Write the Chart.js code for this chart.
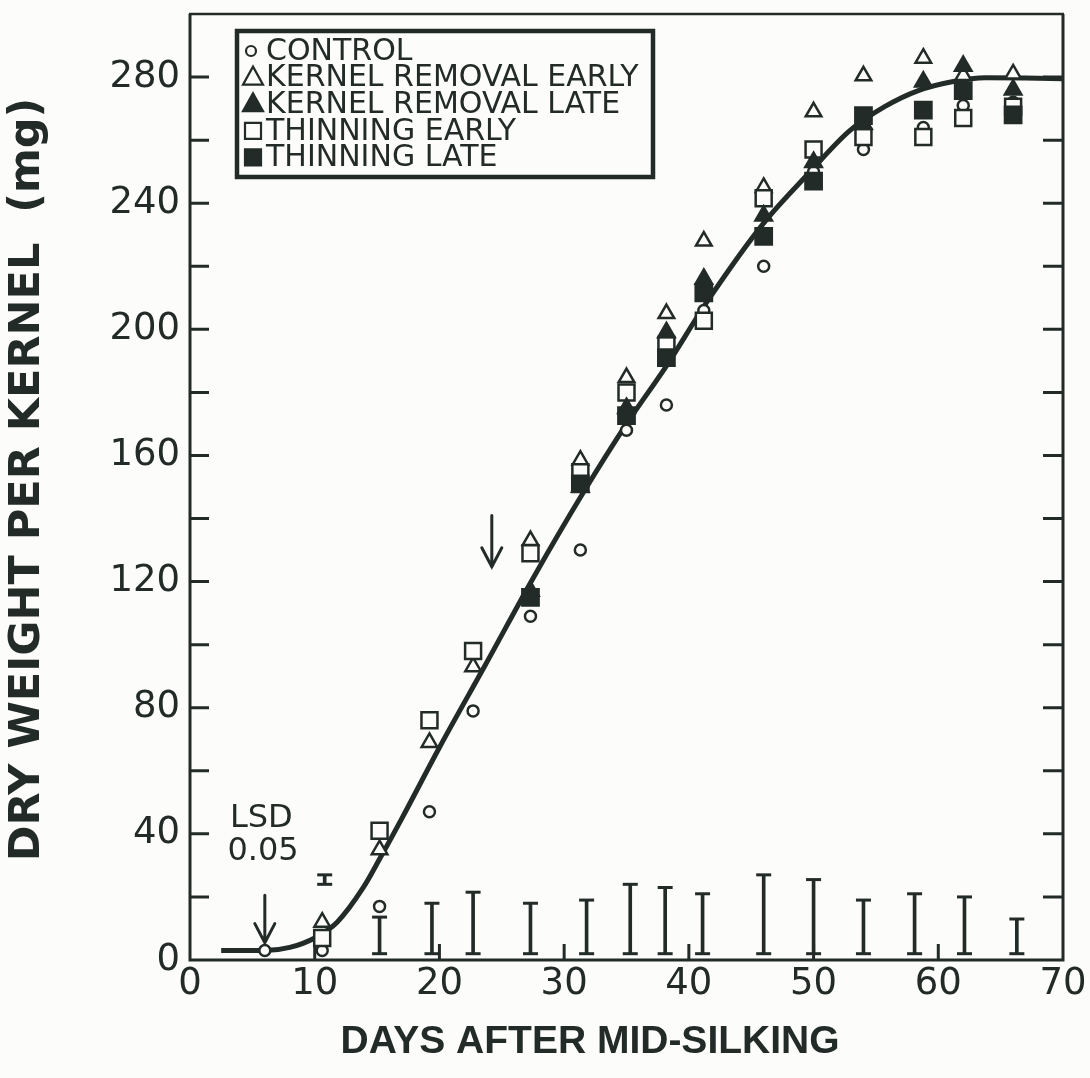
<!DOCTYPE html>
<html>
<head>
<meta charset="utf-8">
<script src="https://cdn.jsdelivr.net/npm/chart.js@4.4.1/dist/chart.umd.min.js"></script>
<style>
  html, body { margin: 0; padding: 0; background: #fcfcfa; }
</style>
</head>
<body>
<canvas id="chart" width="1090" height="1078"></canvas>
<script>
// sampling days and kernel dry weight (mg) per treatment
const days = [6, 10.6, 15.2, 19.2, 22.7, 27.3, 31.3, 35, 38.2, 41.2, 46, 50, 54, 58.8, 62, 66];
const control = [3, 3, 17, 47, 79, 109, 130, 168, 176, 206, 220, 250, 257, 264, 271, 272];
const kernelEarly = [null, 12, 35, 69, 93, 133, 158.5, 184.7, 205, 228, 245, 269, 280.4, 286, 280.5, 281];
const kernelLate = [null, null, null, null, null, 117, 150, 175, 199, 216, 236, 253, 265, 278.5, 283.5, 276];
const thinEarly = [null, 7, 41, 76, 98, 129, 154.7, 180, 195, 202.7, 241.6, 257, 261, 261, 267, 270.6];
const thinLate = [null, null, null, null, null, 115, 151, 172.6, 191, 211.6, 229.5, 247, 267.8, 269.5, 275.7, 268];

// fitted growth curve
const curveDays = [2.5, 6, 8, 10, 11.8, 13.9, 15.2, 17, 20, 23.7, 27.5, 31.5, 35, 38.3, 41.5, 46, 49.5, 52.9, 55.7, 58.4, 61.1, 63.8, 67, 70];
const curveVals = [3, 3, 4, 7, 12, 23, 32, 45, 67.4, 93.7, 121, 148, 170, 189, 209, 233.7, 249, 263, 270.6, 275.7, 278.5, 279.8, 279.7, 279.5];

// LSD 0.05 bars
const lsdDays = [10.8, 15.2, 19.4, 22.7, 27.3, 31.8, 35.3, 38.1, 41.1, 46, 50, 54, 58.1, 62.1, 66.3];
const lsdLow = [24, 2, 2, 2, 2, 2, 2, 2, 2, 2, 2, 2, 2, 2, 2];
const lsdHigh = [27, 13.6, 18, 21.5, 18, 19, 24, 23, 21, 27, 25.5, 19, 21, 20, 13];

// treatment arrows
const arrowDays = [6, 24.2];
const arrowFrom = [20.5, 141];
const arrowTo = [5.5, 124.7];

const yTickLabels = [0, 40, 80, 120, 160, 200, 240, 280];

const INK = '#232b29';
const PAPER = '#fcfcfa';

const pts = (xs, ys) => xs.map((x, i) => ({ x: x, y: ys[i] })).filter(p => p.y !== null);

// box, inward ticks on all sides
const frame = {
  id: 'frame',
  beforeDatasetsDraw(chart) {
    const { ctx, chartArea: a, scales: { x, y } } = chart;
    ctx.save();
    ctx.strokeStyle = INK;
    ctx.lineWidth = 3;
    y.ticks.forEach(t => {
      if (t.value <= y.min || t.value >= y.max) return;
      const py = y.getPixelForValue(t.value);
      ctx.beginPath();
      ctx.moveTo(a.left, py); ctx.lineTo(a.left + 19, py);
      ctx.moveTo(a.right, py); ctx.lineTo(a.right - 20, py);
      ctx.stroke();
    });
    x.ticks.forEach(t => {
      if (t.value <= x.min || t.value >= x.max) return;
      const px = x.getPixelForValue(t.value);
      ctx.beginPath();
      ctx.moveTo(px, a.bottom); ctx.lineTo(px, a.bottom - 16);
      ctx.stroke();
    });
    ctx.beginPath();
    ctx.moveTo(a.left, a.top); ctx.lineTo(a.left, a.bottom);
    ctx.lineTo(a.right, a.bottom); ctx.lineTo(a.right, a.top);
    ctx.stroke();
    ctx.lineWidth = 2.5;
    ctx.beginPath();
    ctx.moveTo(a.left - 1, a.top); ctx.lineTo(a.right + 1, a.top);
    ctx.stroke();
    ctx.restore();
  }
};

// arrows, the LSD note and the x axis title (set a bit left of centre)
const notes = {
  id: 'notes',
  afterDatasetsDraw(chart) {
    const { ctx, scales: { x, y } } = chart;
    ctx.save();
    ctx.strokeStyle = INK;
    ctx.lineWidth = 3;
    ctx.lineCap = 'round';
    arrowDays.forEach((d, i) => {
      const px = x.getPixelForValue(d);
      const y0 = y.getPixelForValue(arrowFrom[i]);
      const y1 = y.getPixelForValue(arrowTo[i]);
      ctx.beginPath();
      ctx.moveTo(px, y0); ctx.lineTo(px, y1);
      ctx.moveTo(px - 10, y1 - 19); ctx.lineTo(px, y1); ctx.lineTo(px + 10, y1 - 19);
      ctx.stroke();
    });
    ctx.fillStyle = INK;
    ctx.font = '32px "DejaVu Sans"';
    ctx.textAlign = 'left';
    ctx.textBaseline = 'middle';
    ctx.fillText('LSD', x.getPixelForValue(3.2), y.getPixelForValue(44.8));
    ctx.fillText('0.05', x.getPixelForValue(3.0), y.getPixelForValue(34.4));
    ctx.font = 'bold 39px "Liberation Sans"';
    ctx.textAlign = 'center';
    ctx.fillText('DAYS AFTER MID-SILKING', 590, x.bottom - 36);
    ctx.restore();
  }
};

// legend box in the upper left of the plot
const boxLegend = {
  id: 'boxLegend',
  afterDraw(chart) {
    const { ctx, chartArea: a } = chart;
    const left = a.left + 47, top = a.top + 17, w = 416, h = 146;
    ctx.save();
    ctx.fillStyle = PAPER;
    ctx.fillRect(left, top, w, h);
    ctx.strokeStyle = INK;
    ctx.lineWidth = 4.5;
    ctx.strokeRect(left, top, w, h);
    ctx.font = '30px "DejaVu Sans"';
    ctx.textBaseline = 'middle';
    ctx.textAlign = 'left';
    chart.data.datasets.filter(ds => ds.inLegend).forEach((ds, i) => {
      const cy = top + 20 + i * 26.6;
      const cx = left + 16;
      const filled = ds.backgroundColor === INK;
      ctx.lineWidth = 2.2;
      ctx.strokeStyle = INK;
      ctx.fillStyle = filled ? INK : PAPER;
      ctx.beginPath();
      if (ds.pointStyle === 'circle') {
        ctx.arc(cx - 2, cy, 5, 0, Math.PI * 2);
      } else if (ds.pointStyle === 'triangle') {
        ctx.moveTo(cx, cy - 11); ctx.lineTo(cx + 10, cy + 7); ctx.lineTo(cx - 10, cy + 7); ctx.closePath();
      } else {
        ctx.rect(cx - 8, cy - 8, 16, 16);
      }
      ctx.fill();
      ctx.stroke();
      ctx.fillStyle = INK;
      ctx.fillText(ds.label, left + 29, cy + 1);
    });
    ctx.restore();
  }
};

const marker = (label, data, style, radius, fill, order) => ({
  label: label,
  data: data,
  pointStyle: style,
  pointRadius: radius,
  borderWidth: 2.5,
  borderColor: INK,
  backgroundColor: fill,
  order: order,
  inLegend: true
});

new Chart(document.getElementById('chart'), {
  type: 'scatter',
  data: {
    datasets: [
      marker('CONTROL', pts(days, control), 'circle', 5.5, PAPER, 5),
      marker('KERNEL REMOVAL EARLY', pts(days, kernelEarly), 'triangle', 9, PAPER, 4),
      marker('KERNEL REMOVAL LATE', pts(days, kernelLate), 'triangle', 9.5, INK, 2),
      marker('THINNING EARLY', pts(days, thinEarly), 'rect', 11.3, PAPER, 3),
      marker('THINNING LATE', pts(days, thinLate), 'rect', 11.5, INK, 1),
      {
        data: pts(curveDays, curveVals),
        showLine: true,
        borderColor: INK,
        borderWidth: 5,
        pointRadius: 0,
        cubicInterpolationMode: 'monotone',
        order: 10
      },
      {
        type: 'bar',
        data: lsdDays.map((d, i) => ({ x: d, y: [lsdLow[i], lsdHigh[i]] })),
        backgroundColor: INK,
        borderWidth: 0,
        barThickness: 3,
        order: 9
      },
      {
        data: pts(lsdDays, lsdLow).concat(pts(lsdDays, lsdHigh)),
        pointStyle: 'line',
        pointRadius: 7.5,
        borderWidth: 3,
        borderColor: INK,
        order: 8
      }
    ]
  },
  options: {
    responsive: false,
    devicePixelRatio: 1,
    animation: false,
    events: [],
    layout: { padding: { left: 0, right: 27, top: 10, bottom: 0 } },
    plugins: { legend: { display: false }, tooltip: { enabled: false } },
    scales: {
      x: {
        type: 'linear',
        min: 0,
        max: 70,
        offset: false,
        grid: { display: false, drawTicks: false, offset: false },
        border: { display: false },
        ticks: { stepSize: 10, padding: 2, color: INK, font: { family: 'DejaVu Sans', size: 37 } },
        afterFit(scale) {
          scale.height = 118;
          scale.paddingLeft = 0;
          scale.paddingRight = 0;
        }
      },
      y: {
        min: 0,
        max: 300,
        grid: { display: false, drawTicks: false },
        border: { display: false },
        ticks: {
          stepSize: 20,
          padding: 10,
          color: INK,
          font: { family: 'DejaVu Sans', size: 37 },
          callback: v => yTickLabels.includes(v) ? String(v) : ''
        },
        title: {
          display: true,
          // leading space nudges the centred title up a little, as in the figure
          text: ' DRY WEIGHT PER KERNEL  (mg)',
          color: INK,
          font: { family: 'DejaVu Sans', size: 43, weight: 'bold' },
          padding: { top: 2, bottom: 0 }
        },
        afterFit(scale) {
          scale.width = 190;
          scale.paddingTop = 0;
          scale.paddingBottom = 0;
        }
      }
    }
  },
  plugins: [frame, notes, boxLegend]
});
</script>
</body>
</html>
